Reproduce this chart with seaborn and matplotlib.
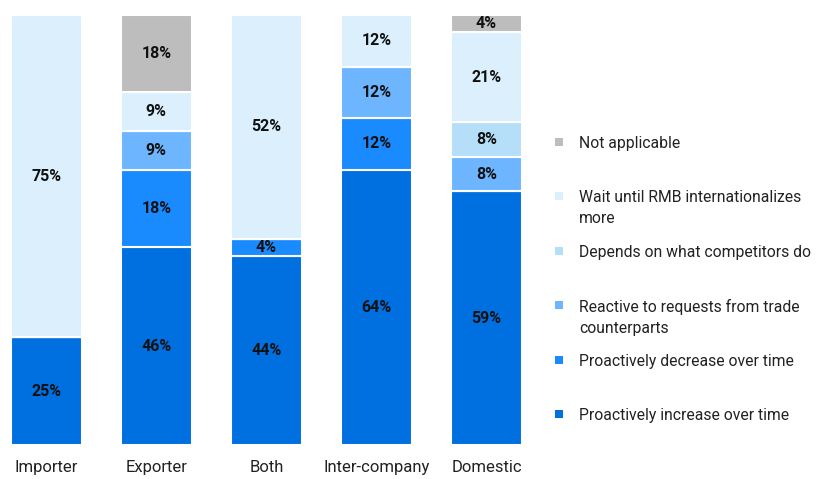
import numpy as np
import pandas as pd
import matplotlib
matplotlib.use("Agg")
import matplotlib.pyplot as plt
from matplotlib.patches import Rectangle
import seaborn as sns

categories = ["Importer", "Exporter", "Both", "Inter-company", "Domestic"]

# Stacked from bottom to top
series = [
    "Proactively increase over time",
    "Proactively decrease over time",
    "Reactive to requests from trade\ncounterparts",
    "Depends on what competitors do",
    "Wait until RMB internationalizes\nmore",
    "Not applicable",
]
increase = [25, 46, 44, 64, 59]
decrease = [0, 18, 4, 12, 0]
reactive = [0, 9, 0, 12, 8]
depends = [0, 0, 0, 0, 8]
wait = [75, 9, 52, 12, 21]
not_applicable = [0, 18, 0, 0, 4]

colors = ["#006FE0", "#1A8AFF", "#6EB5FF", "#B5DFF8", "#DBF0FC", "#BDBDBD"]

values = [increase, decrease, reactive, depends, wait, not_applicable]

sns.set_theme(style="white")
plt.rcParams["font.family"] = ["Roboto", "DejaVu Sans"]

fig = plt.figure(figsize=(8.18, 4.79), dpi=100)
ax = fig.add_axes([0.0122, 0.071, 0.627, 0.8977])

bottom = np.zeros(len(categories))
for name, vals, col in zip(series, values, colors):
    df = pd.DataFrame({"category": categories, "value": vals})
    sns.barplot(data=df, x="category", y="value", order=categories,
                color=col, width=0.65, bottom=bottom.copy(),
                edgecolor="white", linewidth=1.5, saturation=1,
                errorbar=None, ax=ax)
    for i, v in enumerate(vals):
        if v > 0:
            ax.text(i, bottom[i] + v / 2, f"{v}%", ha="center", va="center",
                    fontsize=11.5, fontweight="bold", color="#111111")
    bottom += np.array(vals)

ax.set_xlim(-0.33, 4.33)
ax.set_ylim(0, 100)
ax.set_xlabel("")
ax.set_ylabel("")
ax.set_yticks([])
ax.tick_params(axis="x", length=0, labelsize=12, pad=11, colors="#222222")
sns.despine(ax=ax, left=True, bottom=True)

# Legend: one slot per series, top entry first, swatch beside the first line
W, H = fig.get_size_inches() * fig.dpi
slot_top, slot_step = 142, 54.4
for k, (name, col) in enumerate(zip(series[::-1], colors[::-1])):
    yc = slot_top + k * slot_step
    fig.add_artist(Rectangle((555 / W, 1 - (yc + 4) / H), 8 / W, 8 / H,
                             transform=fig.transFigure, facecolor=col,
                             edgecolor="none"))
    fig.text(579 / W, 1 - (yc - 6) / H, name, ha="left", va="top",
             fontsize=11.3, color="#222222", linespacing=1.5)

fig.savefig("out.png", dpi=100)
